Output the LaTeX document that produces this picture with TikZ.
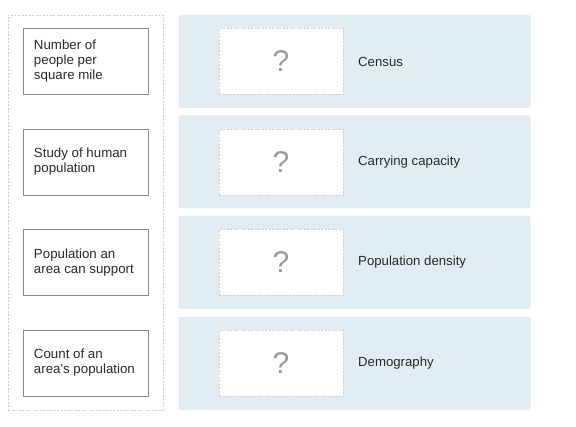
\documentclass[tikz,border=0pt]{standalone}
\usepackage{fontspec}
\setmainfont{Liberation Sans}
\usetikzlibrary{positioning}
\definecolor{panelblue}{HTML}{E1EDF2}
\definecolor{boxgray}{HTML}{8A8A8A}
\definecolor{dashgray}{HTML}{CFCFCF}
\definecolor{textdark}{HTML}{2A2A2A}
\definecolor{qgray}{HTML}{9A9A9A}

\begin{document}
\begin{tikzpicture}[x=1pt,y=-1pt,
  tray/.style={draw=dashgray,dash pattern=on 2pt off 1.5pt,minimum width=155pt,minimum height=395pt,inner sep=0pt},
  term/.style={draw=boxgray,fill=white,minimum width=125pt,minimum height=66pt,inner sep=0pt},
  termtext/.style={align=left,text=textdark,font=\fontsize{13.3}{15}\selectfont,inner sep=0pt,anchor=west},
  panel/.style={fill=panelblue,rounded corners=1.5pt,minimum width=352pt,minimum height=93pt,inner sep=0pt},
  slot/.style={draw=dashgray,fill=white,dash pattern=on 2pt off 1.5pt,minimum width=124pt,minimum height=66pt,inner sep=0pt},
  qmark/.style={text=qgray,font=\fontsize{30}{30}\selectfont},
  answer/.style={text=textdark,font=\fontsize{13.2}{15}\selectfont,inner sep=0pt,anchor=west}]
  \useasboundingbox (0,0) rectangle (576,427);
  % left column
  \node[tray] (tray) at (85.5,212.5) {};
  \node[term] (t1) at (85.5,61) {};
  \node[termtext] (tt1) at ([xshift=11pt]t1.west) {Number of\\people per\\square mile};
  \node[term] (t2) at (85.5,162) {};
  \node[termtext] (tt2) at ([xshift=11pt]t2.west) {Study of human\\population};
  \node[term] (t3) at (85.5,262.5) {};
  \node[termtext] (tt3) at ([xshift=11pt]t3.west) {Population an\\area can support};
  \node[term] (t4) at (85.5,363) {};
  \node[termtext] (tt4) at ([xshift=11pt]t4.west) {Count of an\\area\textquotesingle s population};
  % right column
  \node[panel] (p1) at (354.5,61.5) {};
  \node[slot] (s1) at (281,61.5) {};
  \node[qmark] (q1) at (s1) {?};
  \node[answer] (a1) at (358,61.5) {Census};
  \node[panel] (p2) at (354.5,162) {};
  \node[slot] (s2) at (281,162) {};
  \node[qmark] (q2) at (s2) {?};
  \node[answer] (a2) at (358,162) {Carrying capacity};
  \node[panel] (p3) at (354.5,262.5) {};
  \node[slot] (s3) at (281,262.5) {};
  \node[qmark] (q3) at (s3) {?};
  \node[answer] (a3) at (358,262.5) {Population density};
  \node[panel] (p4) at (354.5,363.5) {};
  \node[slot] (s4) at (281,363.5) {};
  \node[qmark] (q4) at (s4) {?};
  \node[answer] (a4) at (358,363.5) {Demography};
\end{tikzpicture}
\end{document}
